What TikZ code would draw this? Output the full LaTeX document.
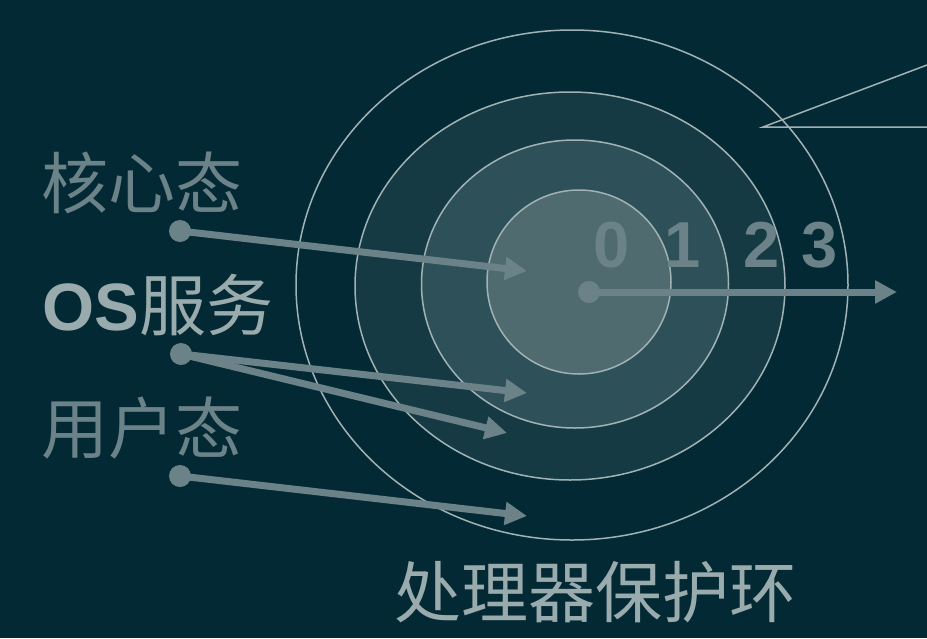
\documentclass[tikz,border=0pt]{standalone}
\usepackage{fontspec}
\setmainfont{Liberation Sans}
\newfontfamily\cjk{Noto Sans CJK SC}
\usepackage{tikz}
\usetikzlibrary{shapes.geometric}
\usetikzlibrary{arrows.meta}
\usetikzlibrary{positioning}
\definecolor{bgteal}{RGB}{3,42,52}
\definecolor{fillthree}{RGB}{22,58,68}
\definecolor{filltwo}{RGB}{46,81,89}
\definecolor{fillone}{RGB}{79,107,112}
\definecolor{ringline}{RGB}{160,178,180}
\definecolor{arrowgray}{RGB}{107,131,136}
\definecolor{lighttext}{RGB}{154,171,174}

\begin{document}
\begin{tikzpicture}[x=1pt, y=-1pt]
		\tikzstyle{ring}=[ellipse, draw=ringline, line width=1.5pt, inner sep=0pt]
		\tikzstyle{dot}=[circle, fill=arrowgray, minimum size=22pt, inner sep=0pt]
		\tikzstyle{lvl}=[draw=arrowgray, line width=7pt, -{Triangle[length=22pt, width=22pt]}]
		\tikzstyle{digit}=[inner sep=0pt, text=arrowgray, font=\fontsize{65}{65}\selectfont\bfseries]
		\tikzstyle{label}=[inner sep=0pt, anchor=west, font=\fontsize{67}{67}\selectfont]
		\useasboundingbox (0,0) rectangle (927,638);
		\fill[bgteal] (0,0) rectangle (927,638);

		% rings, outside first
		\node[ring, fill=bgteal, minimum width=552, minimum height=510] (ring3) at (572,285) {};
		\node[ring, fill=fillthree, minimum width=430, minimum height=388] (ring2) at (570,286) {};
		\node[ring, fill=filltwo, minimum width=307, minimum height=288] (ring1) at (575,284) {};
		\node[ring, fill=fillone, minimum width=184, minimum height=184] (ring0) at (579,282) {};

		\node[digit] (d0) at (612,245) {0};
		\node[digit] (d1) at (683,245) {1};
		\node[digit] (d2) at (762,245) {2};
		\node[digit] (d3) at (820,245) {3};

		% callout edge
		\coordinate (ctip) at (763,127);
		\coordinate (ctop) at (927,65);
		\coordinate (cbot) at (927,127);
		\draw[ringline, line width=1.5pt] (ctop) -- (ctip) -- (cbot);

		% labels
		\node[label, text=arrowgray] (kernel) at (41,183) {\cjk 核心态};
		\node[label, text=lighttext] (ossvc) at (42,305) {\bfseries OS\cjk\mdseries 服务};
		\node[label, text=arrowgray] (user) at (41,428) {\cjk 用户态};
		\node[label, anchor=center, text=lighttext] (title) at (595,592) {\cjk 处理器保护环};

		% dots and level arrows
		\node[dot] (kdot) at (180,231) {};
		\node[dot] (odot) at (181,354) {};
		\node[dot] (udot) at (180,476) {};
		\node[dot] (cdot) at (589,292) {};
		\coordinate (k0) at (527,271);
		\coordinate (o1) at (527,393);
		\coordinate (o2) at (507,433);
		\coordinate (u3) at (527,516);
		\coordinate (hend) at (897,292);

		\path (kdot.center) edge[lvl] (k0);
		\path (odot.center) edge[lvl] (o1);
		\path (odot.center) edge[lvl] (o2);
		\path (udot.center) edge[lvl] (u3);
		\path (cdot.center) edge[lvl] (hend);
	\end{tikzpicture}
\end{document}
